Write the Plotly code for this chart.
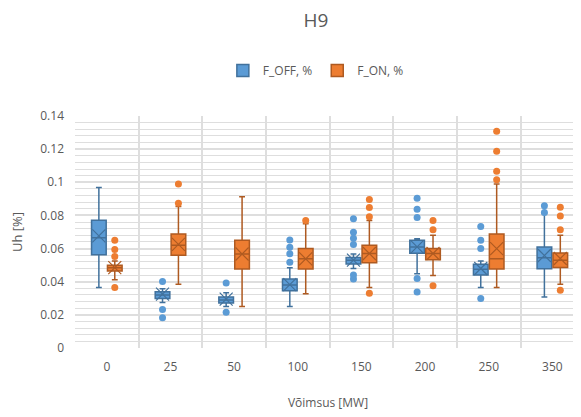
import plotly.graph_objects as go

# Andmed loetud jooniselt
kategooriad = ['0', '25', '50', '100', '150', '200', '250', '350']
y_ticks = [0, 0.02, 0.04, 0.06, 0.08, 0.1, 0.12, 0.14]
y_ticktext = ['0', '0.02', '0.04', '0.06', '0.08', '0.1', '0.12', '0.14']

# F_OFF, %
off_q1 = [0.0563, 0.0298, 0.0272, 0.0345, 0.0507, 0.0572, 0.0440, 0.0478]
off_med = [0.0665, 0.0320, 0.0290, 0.0380, 0.0530, 0.0610, 0.0475, 0.0545]
off_q3 = [0.0771, 0.0340, 0.0308, 0.0417, 0.0546, 0.0650, 0.0506, 0.0610]
off_lo = [0.0365, 0.0275, 0.0250, 0.0250, 0.0480, 0.0448, 0.0365, 0.0308]
off_hi = [0.0969, 0.0358, 0.0333, 0.0485, 0.0567, 0.0660, 0.0525, 0.0812]
off_mean = [0.0677, 0.0325, 0.0295, 0.0382, 0.0530, 0.0610, 0.0480, 0.0558]
off_out_x = ['25', '25', '25', '50', '50',
             '100', '100', '100', '100',
             '150', '150', '150', '150', '150', '150',
             '200', '200', '200', '200', '200',
             '250', '250', '250', '250',
             '350', '350']
off_out_y = [0.0402, 0.0233, 0.0183, 0.0392, 0.0215,
             0.0652, 0.0608, 0.0569, 0.0517,
             0.0780, 0.0698, 0.0663, 0.0625, 0.0440, 0.0417,
             0.0904, 0.0838, 0.0788, 0.0420, 0.0338,
             0.0733, 0.0650, 0.0600, 0.0298,
             0.0858, 0.0817]

# F_ON, %
on_q1 = [0.0465, 0.0560, 0.0477, 0.0477, 0.0515, 0.0533, 0.0477, 0.0486]
on_med = [0.0485, 0.0620, 0.0567, 0.0538, 0.0570, 0.0570, 0.0538, 0.0530]
on_q3 = [0.0500, 0.0688, 0.0650, 0.0600, 0.0620, 0.0600, 0.0688, 0.0573]
on_lo = [0.0412, 0.0385, 0.0250, 0.0327, 0.0365, 0.0437, 0.0365, 0.0385]
on_hi = [0.0525, 0.0854, 0.0913, 0.0750, 0.0770, 0.0680, 0.0990, 0.0680]
on_mean = [0.0485, 0.0625, 0.0567, 0.0538, 0.0570, 0.0570, 0.0600, 0.0540]
on_out_x = ['0', '0', '0', '0', '25', '25', '100',
            '150', '150', '150', '150',
            '200', '200', '200',
            '250', '250', '250', '250',
            '350', '350', '350', '350']
on_out_y = [0.0650, 0.0594, 0.0552, 0.0365, 0.0873, 0.0990, 0.0770,
            0.0896, 0.0848, 0.0792, 0.0330,
            0.0770, 0.0713, 0.0375,
            0.1308, 0.1188, 0.1067, 0.1015,
            0.0850, 0.0796, 0.0713, 0.0348]

SININE = '#5B9BD5'
SININE_JOON = '#41719C'
ORANZ = '#ED7D31'
ORANZ_JOON = '#AE5A21'
NIHE = 0.125

poz = {k: i for i, k in enumerate(kategooriad)}
x_off = [i - NIHE for i in range(len(kategooriad))]
x_on = [i + NIHE for i in range(len(kategooriad))]

fig = go.Figure()

for nimi, xs, q1, med, q3, lo, hi, fill, line in [
    ('F_OFF, %', x_off, off_q1, off_med, off_q3, off_lo, off_hi, SININE, SININE_JOON),
    ('F_ON, %', x_on, on_q1, on_med, on_q3, on_lo, on_hi, ORANZ, ORANZ_JOON),
]:
    fig.add_trace(go.Box(
        name=nimi, x=xs, q1=q1, median=med, q3=q3,
        lowerfence=lo, upperfence=hi,
        width=0.23, whiskerwidth=0.4,
        fillcolor=fill, line=dict(color=line, width=1.5),
        boxpoints=False, hoverinfo='skip',
    ))

# keskmised (X) ja erindid
for xs, mean, ox, oy, fill, line in [
    (x_off, off_mean, off_out_x, off_out_y, SININE, SININE_JOON),
    (x_on, on_mean, on_out_x, on_out_y, ORANZ, ORANZ_JOON),
]:
    nihe = -NIHE if fill == SININE else NIHE
    fig.add_trace(go.Scatter(
        x=xs, y=mean, mode='markers', showlegend=False, hoverinfo='skip',
        marker=dict(symbol='x-thin-open', size=13, color=line, line=dict(color=line, width=1.2)),
    ))
    fig.add_trace(go.Scatter(
        x=[poz[k] + nihe for k in ox], y=oy, mode='markers', showlegend=False,
        marker=dict(symbol='circle', size=7, color=fill, line=dict(color=fill, width=0)),
    ))

HALL = '#DEDEDE'
TEKST = '#595959'

# lehe body'l on 8px veeris, seega joonis on 8px vaiksem
fig.update_layout(
    width=573, height=409,
    margin=dict(l=67, r=0, t=108, b=69, autoexpand=False),
    paper_bgcolor='white', plot_bgcolor='white',
    font=dict(family='Open Sans, sans-serif', size=12, color=TEKST),
    title=dict(text='H9', x=0.5375, xref='container', xanchor='center',
               y=0.971, yref='container', yanchor='middle',
               font=dict(size=19, color=TEKST)),
    legend=dict(orientation='h', x=0.476, xanchor='center', y=1.196, yanchor='middle',
                font=dict(size=12, color=TEKST), itemwidth=30),
    showlegend=True,
)
fig.update_xaxes(
    range=[-0.5, 7.45], tickvals=list(range(len(kategooriad))), ticktext=kategooriad,
    showgrid=False, zeroline=False, ticks='', ticklabelstandoff=10,
    minor=dict(tick0=-0.5, dtick=1, showgrid=True, gridcolor=HALL, gridwidth=1.5, ticks=''),
    title=dict(text='Võimsus [MW]', standoff=24, font=dict(size=12, color=TEKST)),
    showline=False, automargin=False,
)
fig.update_yaxes(
    range=[0, 0.14], tickvals=y_ticks, ticktext=y_ticktext,
    showgrid=True, gridcolor=HALL, gridwidth=1.5, zeroline=False, ticks='',
    ticklabelstandoff=10, automargin=False,
    minor=dict(dtick=0.004, showgrid=True, gridcolor=HALL, gridwidth=1, ticks=''),
    title=dict(text='Uh [%]', standoff=16, font=dict(size=13, color=TEKST)),
)

fig.write_html('out.html')
